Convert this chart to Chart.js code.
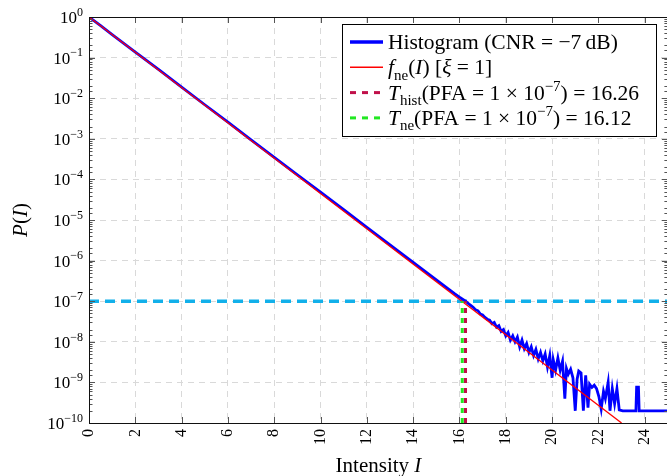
<!DOCTYPE html>
<html>
<head>
<meta charset="utf-8">
<script src="https://cdn.jsdelivr.net/npm/chart.js@4.4.0/dist/chart.umd.min.js"></script>
<style>
html, body { margin: 0; padding: 0; background: #fff; overflow: hidden; }
#wrap { width: 670px; height: 476px; }
</style>
</head>
<body>
<div id="wrap"><canvas id="pfaChart"></canvas></div>
<script>
// Histogram of the intensity, CNR = -7 dB
const histI = [0, 0.5, 1, 2, 3, 4, 5, 6, 7, 8, 9, 10, 11, 12, 13, 13.5, 14, 14.5, 15, 15.5, 15.8, 16.0, 16.26,
  16.4, 16.5, 16.6, 16.7, 16.8, 16.9, 17.0, 17.1, 17.2, 17.3, 17.4, 17.5, 17.6, 17.7, 17.8, 17.9,
  18.0, 18.1, 18.2, 18.3, 18.4, 18.5, 18.6, 18.7, 18.8, 18.9, 19.0, 19.1, 19.2, 19.3, 19.4, 19.5,
  19.6, 19.7, 19.8, 19.9, 20.0, 20.05, 20.15, 20.25, 20.35, 20.45, 20.55, 20.62, 20.7, 20.8, 20.9,
  21.0, 21.08, 21.15, 21.25, 21.35, 21.45, 21.55, 21.62, 21.72, 21.82, 21.92, 22.02, 22.12, 22.22,
  22.3, 22.42, 22.5, 22.6, 22.7, 22.8, 22.9, 23.05, 23.62, 23.65, 23.73, 23.76, 25];
const histP = [1.0, 0.61, 0.37, 0.137, 0.051, 0.0188, 0.0069, 0.00256, 9.4e-4, 3.48e-4, 1.29e-4, 4.85e-5,
  1.79e-5, 6.6e-6, 2.44e-6, 1.49e-6, 9.0e-7, 5.5e-7, 3.35e-7, 2.05e-7, 1.52e-7, 1.26e-7, 1.0e-7,
  8.6e-8, 7.8e-8, 7.0e-8, 6.1e-8, 5.8e-8, 4.8e-8, 4.6e-8, 4.0e-8, 3.6e-8, 3.4e-8, 2.8e-8, 3.0e-8,
  2.3e-8, 2.5e-8, 1.8e-8, 2.0e-8, 1.4e-8, 1.7e-8, 1.1e-8, 1.4e-8, 1.0e-8, 1.3e-8, 7.5e-9, 1.1e-8,
  6.8e-9, 9.0e-9, 5.5e-9, 7.5e-9, 4.6e-9, 6.5e-9, 3.8e-9, 5.5e-9, 3.4e-9, 5.0e-9, 2.4e-9, 4.6e-9,
  1.3e-9, 3.6e-9, 2.0e-9, 4.0e-9, 2.0e-9, 3.3e-9, 4.0e-10, 2.2e-9, 1.6e-9, 2.1e-9, 1.3e-9,
  2.0e-10, 1.2e-9, 1.9e-9, 1.7e-9, 2.0e-10, 1.5e-9, 2.4e-10, 9.0e-10, 7.5e-10, 8.5e-10, 7.0e-10,
  4.5e-10, 2.2e-10, 6.0e-10, 4.0e-10, 1.0e-9, 2.0e-10, 7.0e-10, 3.0e-10, 7.0e-10, 2.1e-10,
  2.0e-10, 2.0e-10, 7.6e-10, 7.6e-10, 2.0e-10, 2.0e-10];

// negative exponential model f_ne(I), xi = 1
const neI = [0, 23];
const neP = [1, 1.0e-10];

// thresholds at PFA = 1e-7
const pfaLevel = 1e-7;
const tHist = 16.26;
const tNe = 16.12;

const xRange = [0, 25];
const yRange = [1e-10, 1];

const SERIF = '"Liberation Serif", "DejaVu Serif", serif';

const legendRows = [
  { color: '#0000ff', width: 3.5, dash: [], parts: [{ t: 'Histogram (CNR = \u22127\u2009dB)' }] },
  { color: '#ff0000', width: 1.4, dash: [], parts: [{ t: 'f', i: 1 }, { t: 'ne', s: 'sub' }, { t: '(' }, { t: 'I', i: 1 }, { t: ') [' }, { t: '\u03be', i: 1 }, { t: ' = 1]' }] },
  { color: '#c0104a', width: 3, dash: [6, 6], parts: [{ t: 'T', i: 1 }, { t: 'hist', s: 'sub' }, { t: '(PFA = 1 \u00d7 10' }, { t: '\u22127', s: 'sup' }, { t: ') = 16.26' }] },
  { color: '#22e822', width: 3, dash: [6, 6], parts: [{ t: 'T', i: 1 }, { t: 'ne', s: 'sub' }, { t: '(PFA = 1 \u00d7 10' }, { t: '\u22127', s: 'sup' }, { t: ') = 16.12' }] }
];

function pts(xs, ys) {
  return xs.map((v, i) => ({ x: v, y: ys[i] }));
}

function isDecade(v) {
  const l = Math.log10(v);
  return Math.abs(l - Math.round(l)) < 1e-9;
}

function drawRich(ctx, parts, x, y, base, small) {
  for (const p of parts) {
    const size = p.s ? small : base;
    ctx.font = (p.i ? 'italic ' : '') + size + 'px ' + SERIF;
    let dy = 0;
    if (p.s === 'sub') dy = base * 0.25;
    if (p.s === 'sup') dy = -base * 0.42;
    ctx.fillText(p.t, x, y + dy);
    x += ctx.measureText(p.t).width;
  }
  return x;
}

function richWidth(ctx, parts, base, small) {
  let w = 0;
  for (const p of parts) {
    ctx.font = (p.i ? 'italic ' : '') + (p.s ? small : base) + 'px ' + SERIF;
    w += ctx.measureText(p.t).width;
  }
  return w;
}

const decorPlugin = {
  id: 'decor',
  afterDatasetsDraw(chart) {
    const ctx = chart.ctx;
    const a = chart.chartArea;
    const xs = chart.scales.x, ys = chart.scales.y;
    ctx.save();
    // tick marks, inward, on all four sides
    ctx.lineWidth = 1;
    ctx.strokeStyle = '#555';
    ctx.beginPath();
    xs.ticks.forEach(t => {
      const px = Math.round(xs.getPixelForValue(t.value)) + 0.5;
      ctx.moveTo(px, a.bottom); ctx.lineTo(px, a.bottom - 6);
      ctx.moveTo(px, a.top); ctx.lineTo(px, a.top + 6);
    });
    ys.ticks.forEach(t => {
      const py = Math.round(ys.getPixelForValue(t.value)) + 0.5;
      const len = isDecade(t.value) ? 6 : 3.5;
      ctx.moveTo(a.left, py); ctx.lineTo(a.left + len, py);
      ctx.moveTo(a.right, py); ctx.lineTo(a.right - len, py);
    });
    ctx.stroke();
    // frame
    ctx.strokeStyle = '#111';
    ctx.strokeRect(Math.round(a.left) + 0.5, Math.round(a.top) + 0.5,
      Math.round(a.right - a.left), Math.round(a.bottom - a.top));
    ctx.restore();
  },
  afterDraw(chart) {
    const ctx = chart.ctx;
    const a = chart.chartArea;
    const ys = chart.scales.y;
    ctx.save();
    ctx.fillStyle = '#000';
    ctx.textBaseline = 'alphabetic';
    ctx.textAlign = 'left';

    // y tick labels 10^k
    ys.ticks.forEach(t => {
      if (!isDecade(t.value)) return;
      const k = Math.round(Math.log10(t.value));
      const parts = [{ t: '10' }, { t: k < 0 ? '\u2212' + (-k) : String(k), s: 'sup' }];
      const w = richWidth(ctx, parts, 17, 12);
      const py = ys.getPixelForValue(t.value);
      drawRich(ctx, parts, a.left - 6 - w, py + 6, 17, 12);
    });

    // axis titles
    const xt = [{ t: 'Intensity ' }, { t: 'I', i: 1 }];
    const xw = richWidth(ctx, xt, 21, 15);
    drawRich(ctx, xt, (a.left + a.right) / 2 - xw / 2, 472, 21, 15);

    const yt = [{ t: 'P', i: 1 }, { t: '(' }, { t: 'I', i: 1 }, { t: ')' }];
    const yw = richWidth(ctx, yt, 21, 15);
    ctx.save();
    ctx.translate(27, (a.top + a.bottom) / 2);
    ctx.rotate(-Math.PI / 2);
    drawRich(ctx, yt, -yw / 2, 0, 21, 15);
    ctx.restore();

    // legend box
    const lx = 342, ly = 24, lw = 314, lh = 112;
    ctx.fillStyle = '#fff';
    ctx.fillRect(lx, ly, lw, lh);
    ctx.strokeStyle = '#000';
    ctx.lineWidth = 1;
    ctx.strokeRect(lx + 0.5, ly + 0.5, lw, lh);
    legendRows.forEach((r, i) => {
      const cy = 42 + i * 25.3;
      ctx.strokeStyle = r.color;
      ctx.lineWidth = r.width;
      ctx.setLineDash(r.dash);
      ctx.beginPath();
      ctx.moveTo(350, cy); ctx.lineTo(383, cy);
      ctx.stroke();
      ctx.setLineDash([]);
      ctx.fillStyle = '#000';
      drawRich(ctx, r.parts, 388, cy + 7, 21.5, 15);
    });
    ctx.restore();
  }
};

new Chart(document.getElementById('pfaChart'), {
  type: 'line',
  data: {
    datasets: [
      {
        label: 'T_hist',
        data: pts([tHist, tHist], [yRange[0], pfaLevel]),
        borderColor: '#c0104a',
        borderWidth: 3,
        borderDash: [5, 5],
        pointRadius: 0,
        order: 0
      },
      {
        label: 'T_ne',
        data: pts([tNe, tNe], [yRange[0], pfaLevel]),
        borderColor: '#22e822',
        borderWidth: 3,
        borderDash: [5, 5],
        pointRadius: 0,
        order: 1
      },
      {
        label: 'f_ne',
        data: pts(neI, neP),
        borderColor: '#ff0000',
        borderWidth: 1.3,
        pointRadius: 0,
        order: 2
      },
      {
        label: 'Histogram',
        data: pts(histI, histP),
        borderColor: '#0000ff',
        borderWidth: 2.8,
        pointRadius: 0,
        order: 3
      },
      {
        label: 'PFA level',
        data: pts(xRange, [pfaLevel, pfaLevel]),
        borderColor: '#12b0ea',
        borderWidth: 3.5,
        borderDash: [10, 6],
        pointRadius: 0,
        order: 4
      }
    ]
  },
  options: {
    responsive: true,
    maintainAspectRatio: false,
    animation: false,
    layout: { padding: { top: 17, right: 2, left: 0, bottom: 0 } },
    plugins: {
      legend: { display: false },
      tooltip: { enabled: false }
    },
    scales: {
      x: {
        type: 'linear',
        min: xRange[0],
        max: xRange[1],
        afterFit: s => { s.height = 53; },
        grid: {
          drawTicks: false,
          color: c => (c.tick && c.tick.value === 0) ? 'rgba(0,0,0,0)' : '#d9d9d9',
          lineWidth: 1
        },
        border: { display: false, dash: [6, 5] },
        ticks: {
          stepSize: 2,
          includeBounds: false,
          autoSkip: false,
          minRotation: 90,
          maxRotation: 90,
          padding: 6,
          color: '#000',
          font: { family: SERIF, size: 16 }
        }
      },
      y: {
        type: 'logarithmic',
        min: yRange[0],
        max: yRange[1],
        afterFit: s => { s.width = 89; },
        grid: {
          drawTicks: false,
          color: c => {
            const v = c.tick && c.tick.value;
            if (!v || !isDecade(v) || v === 1 || v <= 1.01e-10) return 'rgba(0,0,0,0)';
            return '#d9d9d9';
          },
          lineWidth: 1
        },
        border: { display: false, dash: [6, 5] },
        ticks: { display: false }
      }
    }
  },
  plugins: [decorPlugin]
});
</script>
</body>
</html>
